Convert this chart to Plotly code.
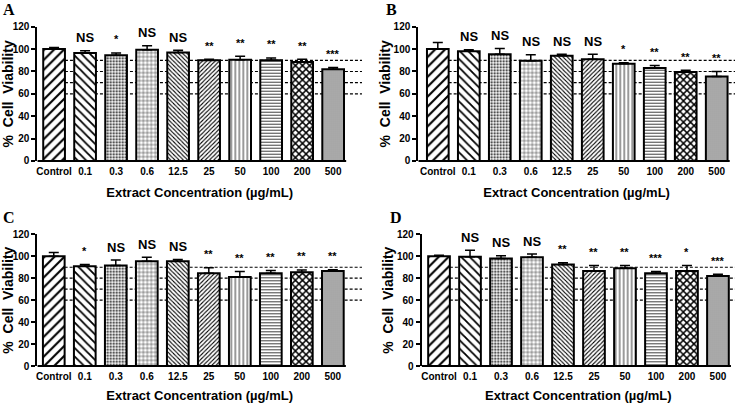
import plotly.graph_objects as go

concentrations = ["Control", "0.1", "0.3", "0.6", "12.5", "25", "50", "100", "200", "500"]

viability_a = [100, 96.5, 94.5, 99.5, 97, 90, 90.5, 90, 88.5, 82]
sem_a = [1.5, 2, 2, 3.5, 2, 1, 3, 2, 2.5, 1.5]
sig_a = ["", "NS", "*", "NS", "NS", "**", "**", "**", "**", "***"]

viability_b = [100, 98, 95.5, 89.5, 94, 91, 87, 83, 79.5, 75.5]
sem_b = [6, 1.5, 5, 5.5, 1.5, 4.5, 0.8, 2.3, 1.5, 4.5]
sig_b = ["", "NS", "NS", "NS", "NS", "NS", "*", "**", "**", "**"]

viability_c = [100, 91, 91.5, 95.5, 95.5, 84.5, 81, 84.5, 85.5, 86.5]
sem_c = [3.5, 1.5, 5, 3.5, 1.5, 5, 5, 2.5, 2, 1.2]
sig_c = ["", "*", "NS", "NS", "NS", "**", "**", "**", "**", "**"]

viability_d = [100, 99.5, 98, 99, 92.5, 86.5, 89, 84.5, 86.5, 82]
sem_d = [1, 6, 2.5, 3, 1.5, 5, 2.5, 1.5, 5, 1.5]
sig_d = ["", "NS", "NS", "NS", "**", "**", "**", "***", "*", "***"]

reference_levels = [60, 70, 80, 90]
y_ticks = [0, 20, 40, 60, 80, 100, 120]

# GraphPad-style fill for each concentration
pattern_shapes = ["/", "\\", ".", "+", "\\", "/", "|", "-", "x", "."]
pattern_sizes = [7, 6, 3, 4, 3, 3, 4, 3, 5, 2]
pattern_solid = [0.3, 0.3, 0.35, 0.2, 0.35, 0.35, 0.2, 0.25, 0.5, 0.32]

FONT = "Liberation Sans, Arial, sans-serif"

panels = [
    ("A", viability_a, sem_a, sig_a, [0.0508, 0.4925], [0.6005, 0.9337], [-0.54, 9.93]),
    ("B", viability_b, sem_b, sig_b, [0.5691, 1.0], [0.6005, 0.9337], [-0.63, 9.59]),
    ("C", viability_c, sem_c, sig_c, [0.0508, 0.4925], [0.0918, 0.4186], [-0.53, 9.94]),
    ("D", viability_d, sem_d, sig_d, [0.5737, 1.0], [0.0918, 0.4186], [-0.56, 9.55]),
]

fig = go.Figure()
layout = {}
shapes = []
annotations = []

for i, (letter, vals, errs, sigs, dom_x, dom_y, xr) in enumerate(panels):
    n = "" if i == 0 else str(i + 1)
    xa, ya = "x" + n, "y" + n

    fig.add_trace(go.Bar(
        x=concentrations,
        y=vals,
        xaxis=xa,
        yaxis=ya,
        width=0.7,
        marker=dict(
            color="white",
            line=dict(color="black", width=2),
            pattern=dict(shape=pattern_shapes, size=pattern_sizes,
                         solidity=pattern_solid, fgcolor="black",
                         bgcolor="white", fillmode="replace"),
        ),
        error_y=dict(type="data", array=errs, arrayminus=[0] * len(errs),
                     symmetric=False, color="black", thickness=1.5, width=5),
        showlegend=False,
        hoverinfo="skip",
    ))

    layout["xaxis" + n] = dict(
        type="category", automargin=False,
        domain=dom_x, anchor=ya, range=xr, showline=False, ticks="",
        showgrid=False, zeroline=False, ticklabelstandoff=3,
        tickfont=dict(family=FONT, size=10, color="black", weight="bold"),
        title=dict(text="Extract Concentration (\u00b5g/mL)", standoff=11,
                   font=dict(family=FONT, size=13, color="black", weight="bold")),
    )
    layout["yaxis" + n] = dict(
        automargin=False,
        domain=dom_y, anchor=xa, range=[0, 120], tickvals=y_ticks,
        showline=True, linewidth=2, linecolor="black", ticks="outside",
        ticklen=4, tickwidth=1.5, tickcolor="black", showgrid=False, zeroline=False,
        tickfont=dict(family=FONT, size=10, color="black", weight="bold"),
        title=dict(text="%\u00a0\u00a0Cell\u00a0\u00a0Viability", standoff=0,
                   font=dict(family=FONT, size=14, color="black", weight="bold")),
    )

    # x axis line stops just past the last bar
    shapes.append(dict(type="line", xref=xa, yref=ya + " domain", x0=xr[0], x1=9.42,
                       y0=0, y1=0, line=dict(color="black", width=2), layer="above"))
    for lvl in reference_levels:
        shapes.append(dict(type="line", xref=xa, yref=ya, x0=0.35, x1=xr[1],
                           y0=lvl, y1=lvl, layer="below",
                           line=dict(color="black", width=1.2, dash="3px,2px")))

    for j, (v, e, s) in enumerate(zip(vals, errs, sigs)):
        if not s:
            continue
        star = s != "NS"
        annotations.append(dict(
            x=j, y=v + e + (5 if star else 3), xref=xa, yref=ya,
            text=s, showarrow=False, yanchor="bottom",
            font=dict(family=FONT, size=11 if star else 13, color="black", weight="bold"),
        ))

    annotations.append(dict(
        x=dom_x[0] - (0.046 if i % 2 else 0.05), y=dom_y[1] + 0.068,
        xref="paper", yref="paper",
        text=letter, showarrow=False, xanchor="left", yanchor="top",
        font=dict(family="Liberation Serif, Times New Roman, serif", size=16,
                  color="black", weight="bold"),
    ))

fig.update_layout(
    **layout,
    shapes=shapes,
    annotations=annotations,
    width=735,
    height=403,
    margin=dict(l=0, r=0, t=0, b=0),
    paper_bgcolor="white",
    plot_bgcolor="white",
    bargap=0.3,
)

# drop the browser's default body margin so the figure fills the window
fig.write_html("out.html", config={"displayModeBar": False},
               post_script="document.body.style.margin = '0';")
